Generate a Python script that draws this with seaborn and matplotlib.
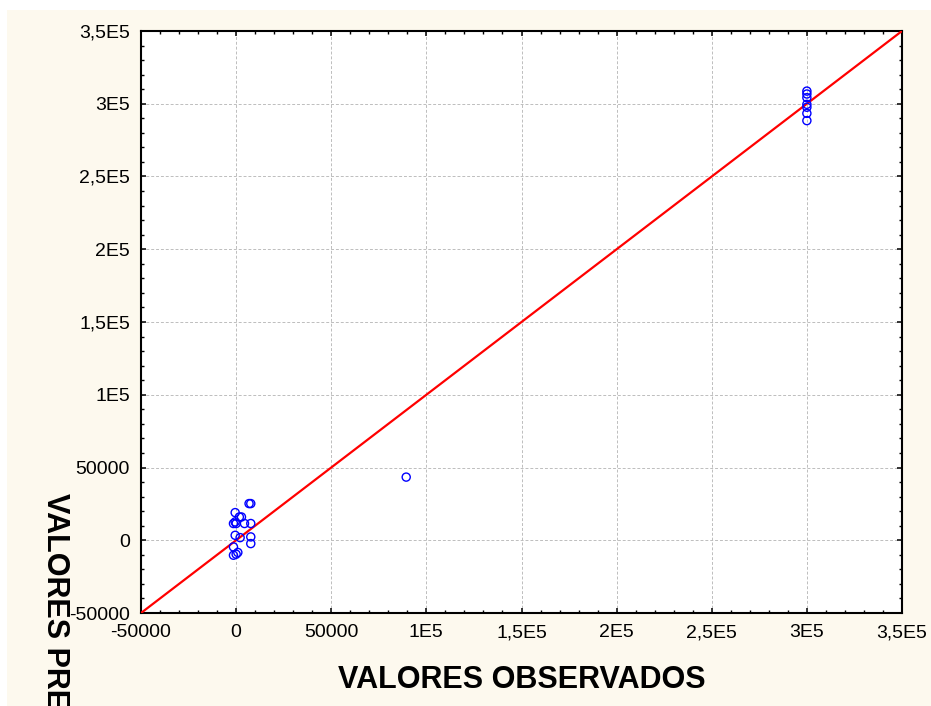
import matplotlib
matplotlib.use("Agg")
import matplotlib.pyplot as plt
from matplotlib.patches import Rectangle
from matplotlib.ticker import FixedLocator, MultipleLocator
import numpy as np
import pandas as pd
import seaborn as sns

# Observed vs. predicted values
observados = [6800, 7700, -500, 2800, 1700, -500, -1400, 0, 4400, 7700,
              -500, 2100, 7700, 7700, -1400, 900, -1400, 0,
              89400,
              300000, 300000, 300000, 300000, 300000, 300000, 300000]
preditos = [25200, 25200, 19000, 16000, 16000, 12600, 11500, 11500, 11500, 11500,
            3400, 1800, 2300, -2300, -4600, -8400, -10300, -9600,
            43400,
            308700, 306700, 304200, 299600, 297600, 293400, 288400]

# Identity reference line
linha_x = [-50000, 350000]
linha_y = [-50000, 350000]

tick_valores = [-50000, 0, 50000, 100000, 150000, 200000, 250000, 300000, 350000]
tick_rotulos = ["-50000", "0", "50000", "1E5", "1,5E5", "2E5", "2,5E5", "3E5", "3,5E5"]

sns.set_theme(style="white")
plt.rcParams["font.family"] = ["Liberation Sans", "DejaVu Sans"]

W, H = 931, 706
fig = plt.figure(figsize=(W / 100, H / 100), dpi=100, facecolor="white")
# cream panel behind the plot
fig.patches.append(Rectangle((7 / W, 0), 1 - 7 / W, 1 - 10 / H,
                             transform=fig.transFigure, facecolor="#FDF9EE",
                             edgecolor="none", zorder=-10))

ax = fig.add_axes([141 / W, 1 - 613 / H, (902 - 141) / W, (613 - 31) / H])
ax.set_facecolor("white")

df = pd.DataFrame({"obs": observados, "pred": preditos})
linha = pd.DataFrame({"x": linha_x, "y": linha_y})

sns.lineplot(data=linha, x="x", y="y", ax=ax, color="#FF0000", linewidth=1.6,
             zorder=3)
sns.scatterplot(data=df, x="obs", y="pred", ax=ax, marker="o", s=34,
                facecolor="none", edgecolor="#0000FF", linewidth=1.0, zorder=4)

ax.set_xlim(-50000, 350000)
ax.set_ylim(-50000, 350000)
ax.xaxis.set_major_locator(FixedLocator(tick_valores))
ax.yaxis.set_major_locator(FixedLocator(tick_valores))
ax.set_xticklabels(tick_rotulos)
ax.set_yticklabels(tick_rotulos)
ax.xaxis.set_minor_locator(MultipleLocator(10000))
ax.yaxis.set_minor_locator(MultipleLocator(10000))

ax.grid(True, which="major", color="#BDBDBD", linestyle=(0, (3, 2)), linewidth=0.7)
ax.set_axisbelow(True)

for s in ax.spines.values():
    s.set_visible(True)
    s.set_color("black")
    s.set_linewidth(1.5)

ax.tick_params(which="both", direction="in", top=True, right=True,
               bottom=True, left=True, color="black")
ax.tick_params(which="major", length=3.5, width=1.1, labelsize=14, pad=8,
               labelcolor="black")
ax.tick_params(which="minor", length=2.2, width=1.0)

ax.set_xlabel("")
ax.set_ylabel("")

fig.text(521.5 / W, 1 - 688 / H, "VALORES OBSERVADOS", ha="center",
         va="baseline", fontsize=22, fontweight="bold", color="black")
fig.text(47 / W, 1 - 493 / H, "VALORES PREDITOS", ha="left", va="baseline",
         rotation=-90, rotation_mode="anchor", fontsize=22, fontweight="bold",
         color="black")

fig.savefig("out.png", dpi=100, facecolor=fig.get_facecolor())
